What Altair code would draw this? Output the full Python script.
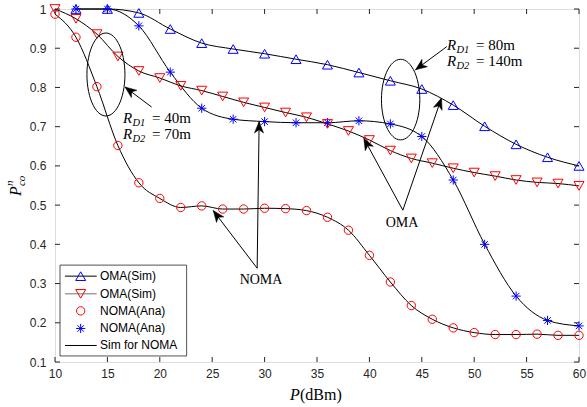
import math
import altair as alt
import pandas as pd

# ---------------- data ----------------
far_x = [12, 15, 18, 21, 24, 27, 30, 33, 36, 39, 42, 45, 48, 51, 54, 57, 60]
oma_far_y = [1.0, 1.0, 0.990, 0.949, 0.913, 0.898, 0.886, 0.872, 0.858, 0.838,
             0.817, 0.796, 0.755, 0.701, 0.655, 0.622, 0.600]
noma_far_y = [1.0, 1.0, 0.957, 0.839, 0.747, 0.719, 0.713, 0.710, 0.710, 0.715,
              0.707, 0.675, 0.564, 0.400, 0.268, 0.206, 0.192]

near_x = [10, 12, 14, 16, 18, 20, 22, 24, 26, 28, 30, 32, 34, 36, 38, 40, 42,
          44, 46, 48, 50, 52, 54, 56, 58, 60]
oma_near_y = [1.0, 0.975, 0.936, 0.879, 0.842, 0.824, 0.804, 0.792, 0.777, 0.762,
              0.749, 0.736, 0.724, 0.707, 0.689, 0.666, 0.639, 0.619, 0.607, 0.594,
              0.583, 0.574, 0.564, 0.558, 0.555, 0.549]
noma_near_y = [0.987, 0.928, 0.802, 0.652, 0.557, 0.517, 0.494, 0.498, 0.490, 0.490,
               0.492, 0.491, 0.486, 0.469, 0.436, 0.372, 0.304, 0.244, 0.209, 0.187,
               0.175, 0.170, 0.170, 0.171, 0.168, 0.168]

x_ticks = [10, 15, 20, 25, 30, 35, 40, 45, 50, 55, 60]
y_ticks = [0.1, 0.2, 0.3, 0.4, 0.5, 0.6, 0.7, 0.8, 0.9, 1.0]

legend_labels = ["OMA(Sim)", "OMA(Sim)", "NOMA(Ana)", "NOMA(Ana)", "Sim for NOMA"]

# ---------------- layout / style ----------------
W, H = 524, 353
XD, YD = [10, 60], [0.1, 1.0]
KX, KY = W / (XD[1] - XD[0]), H / (YD[1] - YD[0])
SERIF = "Liberation Serif"
SANS = "Liberation Sans"
AX = "#262626"
BLUE, RED = "#0000ff", "#ff0000"

xs = alt.Scale(domain=XD, nice=False, zero=False)
ys = alt.Scale(domain=YD, nice=False, zero=False)

x_axis = alt.Axis(values=x_ticks, format="d", title=None, grid=False, ticks=False,
                  tickSize=0, domain=False, labelFont=SANS, labelFontSize=12,
                  labelColor=AX, labelPadding=6, labelFlush=False)
y_axis = alt.Axis(values=y_ticks, format="~g", title=None, grid=False, ticks=False,
                  tickSize=0, domain=False, labelFont=SANS, labelFontSize=12,
                  labelColor=AX, labelPadding=9, labelFlush=False)


def X(f):
    return alt.X(f"{f}:Q", scale=xs, axis=x_axis)


def Y(f):
    return alt.Y(f"{f}:Q", scale=ys, axis=y_axis)


df_far = pd.DataFrame({"x": far_x, "oma": oma_far_y, "noma": noma_far_y})
df_near = pd.DataFrame({"x": near_x, "oma": oma_near_y, "noma": noma_near_y})

STAR = "M-1,0L1,0M0,-1L0,1M-0.7,-0.7L0.7,0.7M-0.7,0.7L0.7,-0.7"

layers = []
# simulation lines
for df, col in [(df_far, "oma"), (df_far, "noma"), (df_near, "oma"), (df_near, "noma")]:
    layers.append(alt.Chart(df).mark_line(color="black", strokeWidth=1,
                                          interpolate="monotone")
                  .encode(x=X("x"), y=Y(col)))

# markers
layers.append(alt.Chart(df_far).mark_point(shape="triangle-up", filled=False, color=BLUE,
                                           size=100, strokeWidth=1, opacity=1)
              .encode(x=X("x"), y=Y("oma")))
layers.append(alt.Chart(df_far).mark_point(shape=STAR, filled=False, color=BLUE,
                                           size=85, strokeWidth=1, opacity=1)
              .encode(x=X("x"), y=Y("noma")))
layers.append(alt.Chart(df_near).mark_point(shape="triangle-down", filled=False, color=RED,
                                            size=100, strokeWidth=1, opacity=1)
              .encode(x=X("x"), y=Y("oma")))
layers.append(alt.Chart(df_near).mark_point(shape="circle", filled=False, color=RED,
                                            size=70, strokeWidth=1, opacity=1)
              .encode(x=X("x"), y=Y("noma")))


# ---------------- annotations ----------------
def ellipse_path(ratio, n=60):
    pts = []
    for i in range(n):
        t = 2 * math.pi * i / n
        pts.append(f"{ratio * math.cos(t):.4f},{math.sin(t):.4f}")
    return "M" + "L".join(pts) + "Z"


ellipses = [  # centre x, centre y, horizontal/vertical ratio, vertical semi-axis (px)
    (14.86, 0.833, 0.458, 41.5),
    (42.98, 0.769, 0.476, 40.3),
]
for cx, cy, ratio, semi in ellipses:
    layers.append(alt.Chart(pd.DataFrame({"x": [cx], "y": [cy]}))
                  .mark_point(shape=ellipse_path(ratio), filled=False, color="black",
                              size=(2 * semi) ** 2, strokeWidth=1, opacity=1)
                  .encode(x=X("x"), y=Y("y")))

arr_tail_x = [19.22, 47.38, 43.19, 43.19, 29.29, 29.29]
arr_tail_y = [0.750, 0.904, 0.487, 0.487, 0.339, 0.339]
arr_tip_x = [16.68, 44.40, 39.47, 46.88, 25.10, 29.48]
arr_tip_y = [0.801, 0.845, 0.670, 0.773, 0.486, 0.713]
angles = [math.degrees(math.atan2(-(ty - sy) * KY, (tx - sx) * KX)) % 360
          for sx, sy, tx, ty in zip(arr_tail_x, arr_tail_y, arr_tip_x, arr_tip_y)]
df_arr = pd.DataFrame({"sx": arr_tail_x, "sy": arr_tail_y, "tx": arr_tip_x,
                       "ty": arr_tip_y, "a": angles})
layers.append(alt.Chart(df_arr).mark_rule(color="black", strokeWidth=1)
              .encode(x=X("sx"), y=Y("sy"), x2="tx:Q", y2="ty:Q"))
HEAD = "M0,0L-1,-0.4L-0.72,0L-1,0.4Z"
layers.append(alt.Chart(df_arr).mark_point(shape=HEAD, filled=True, fill="black",
                                           stroke="black", strokeWidth=0.5,
                                           size=520, opacity=1, fillOpacity=1)
              .encode(x=X("tx"), y=Y("ty"), angle=alt.Angle("a:Q", scale=None)))


def txt(x, y, s, size, italic=False, dx=0, dy=0, align="left",
        baseline="alphabetic", angle=None, font=SERIF, color="black"):
    kw = dict(align=align, baseline=baseline, fontSize=size, font=font,
              dx=dx, dy=dy, color=color)
    if italic:
        kw["fontStyle"] = "italic"
    if angle is not None:
        kw["angle"] = angle
    return (alt.Chart(pd.DataFrame({"x": [x], "y": [y], "t": [s]}))
            .mark_text(**kw).encode(x=X("x"), y=Y("y"), text="t:N"))


def rlabel(x, y, sub, rest):
    return [txt(x, y, "R", 15, italic=True),
            txt(x, y, sub, 10.5, italic=True, dx=9.5, dy=3),
            txt(x, y, rest, 15, dx=29)]


layers += rlabel(16.49, 0.709, "D1", "= 40m")
layers += rlabel(16.49, 0.668, "D2", "= 70m")
layers += rlabel(47.40, 0.896, "D1", "= 80m")
layers += rlabel(47.40, 0.855, "D2", "= 140m")
layers.append(txt(43.11, 0.454, "OMA", 14, align="center", baseline="middle"))
layers.append(txt(29.66, 0.309, "NOMA", 14, align="center", baseline="middle"))

# axis titles
layers.append(txt(32.42, 0.003, "P", 16, italic=True))
layers.append(txt(32.42, 0.003, "(dBm)", 16, dx=10))
layers.append(txt(6.76, 0.523, "P", 16, italic=True, angle=270))
layers.append(txt(6.76, 0.523, "n", 11, italic=True, angle=270, dx=10, dy=-8))
layers.append(txt(6.76, 0.523, "co", 11, italic=True, angle=270, dx=10, dy=4))

# ---------------- manual legend ----------------
LX0, LX1, LY0, LY1 = 10.48, 22.56, 0.1154, 0.347
leg_y = [0.3189, 0.2738, 0.2304, 0.1855, 0.1421]
layers.append(alt.Chart(pd.DataFrame({"x": [LX0], "x2": [LX1], "y": [LY0], "y2": [LY1]}))
              .mark_rect(fill="white", stroke=AX, strokeWidth=0.8)
              .encode(x=X("x"), x2="x2:Q", y=Y("y"), y2="y2:Q"))
for i, col in [(0, "black"), (1, "#707070"), (4, "black")]:
    layers.append(alt.Chart(pd.DataFrame({"x": [10.95], "x2": [13.98], "y": [leg_y[i]]}))
                  .mark_rule(color=col, strokeWidth=1)
                  .encode(x=X("x"), x2="x2:Q", y=Y("y")))
leg_marks = [("triangle-up", BLUE, 100), ("triangle-down", RED, 100),
             ("circle", RED, 70), (STAR, BLUE, 85)]
for i, (shp, col, sz) in enumerate(leg_marks):
    layers.append(alt.Chart(pd.DataFrame({"x": [12.45], "y": [leg_y[i]]}))
                  .mark_point(shape=shp, filled=False, color=col, size=sz,
                              strokeWidth=1, opacity=1)
                  .encode(x=X("x"), y=Y("y")))
layers.append(alt.Chart(pd.DataFrame({"x": [14.29] * 5, "y": leg_y, "t": legend_labels}))
              .mark_text(align="left", baseline="middle", font=SANS, fontSize=12,
                         color="black")
              .encode(x=X("x"), y=Y("y"), text="t:N"))

# ---------------- inward ticks (MATLAB box style) ----------------
df_xt = pd.DataFrame({"v": x_ticks})
df_yt = pd.DataFrame({"v": y_ticks})
layers.append(alt.Chart(df_xt).mark_rule(color=AX, strokeWidth=1)
              .encode(x=X("v"), y=alt.value(H), y2=alt.value(H - 5)))
layers.append(alt.Chart(df_xt).mark_rule(color=AX, strokeWidth=1)
              .encode(x=X("v"), y=alt.value(0), y2=alt.value(5)))
layers.append(alt.Chart(df_yt).mark_rule(color=AX, strokeWidth=1)
              .encode(y=Y("v"), x=alt.value(0), x2=alt.value(5)))
layers.append(alt.Chart(df_yt).mark_rule(color=AX, strokeWidth=1)
              .encode(y=Y("v"), x=alt.value(W - 5), x2=alt.value(W)))

chart = (alt.layer(*layers)
         .properties(width=W, height=H,
                     autosize=alt.AutoSizeParams(type="none"),
                     padding={"left": 55, "top": 9, "right": 8, "bottom": 45})
         .configure_view(stroke=AX, strokeWidth=1)
         .configure(background="white"))

chart.save("out.html", embed_options={"renderer": "svg", "actions": False})
